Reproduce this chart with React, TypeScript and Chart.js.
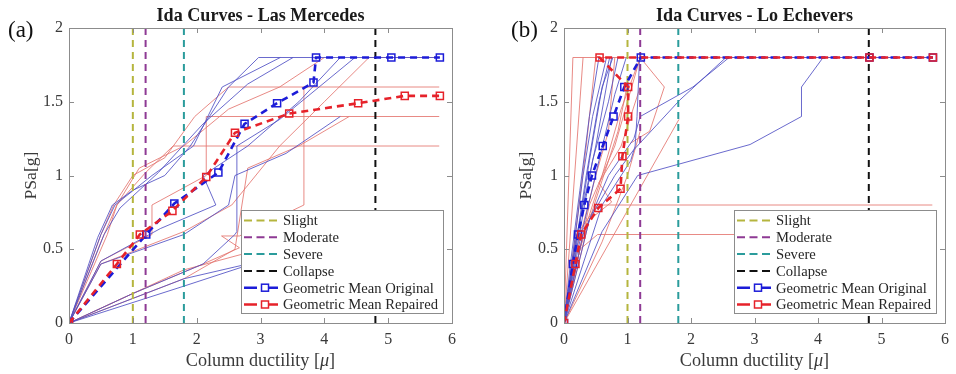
import React, { useEffect, useRef } from "react";
import { Chart, registerables } from "chart.js";
Chart.register(...registerables);

type P = [number, number][];

const X_TICKS = [0, 1, 2, 3, 4, 5, 6];
const Y_TICKS = [0, 0.5, 1, 1.5, 2];
const LEVEL_NAMES = ["Slight", "Moderate", "Severe", "Collapse"];
const LEVEL_DUCTILITY = [1, 1.2, 1.8, 4.8];
const MEAN_NAMES = ["Geometric Mean Original", "Geometric Mean Repaired"];

// ---- Panel (a): Las Mercedes ----
const lmMeanOriginal: P = [[0, 0], [1.21, 0.6], [1.65, 0.81], [2.34, 1.02], [2.75, 1.35], [3.26, 1.49], [3.83, 1.63], [3.87, 1.8], [5.05, 1.8], [5.81, 1.8]];
const lmMeanRepaired: P = [[0, 0], [0.75, 0.4], [1.11, 0.6], [1.62, 0.76], [2.15, 0.99], [2.6, 1.29], [3.45, 1.42], [4.53, 1.49], [5.26, 1.54], [5.81, 1.54]];
const lmOriginalCurves: P[] = [
  [[0, 0], [0.45, 0.58], [0.68, 0.8], [1.0, 0.9], [1.5, 1.0], [1.9, 1.2], [2.5, 1.6], [2.97, 1.8], [5.8, 1.8]],
  [[0, 0], [0.5, 0.6], [0.72, 0.8], [1.3, 1.0], [1.95, 1.2], [2.4, 1.6], [3.31, 1.8]],
  [[0, 0], [0.55, 0.6], [0.8, 0.78], [1.4, 1.02], [2.1, 1.35], [2.8, 1.62], [3.51, 1.8]],
  [[0, 0], [0.5, 0.42], [1.43, 0.64], [2.3, 0.8], [2.1, 1.0], [2.8, 1.2], [3.6, 1.5], [4.25, 1.8]],
  [[0, 0], [1.0, 0.2], [2.1, 0.4], [2.6, 0.6], [2.63, 0.62], [2.63, 1.2], [3.3, 1.38], [4.48, 1.8]],
  [[0, 0], [0.5, 0.4], [1.8, 0.6], [2.5, 0.8], [2.6, 1.0], [3.4, 1.15], [4.25, 1.4]],
  [[0, 0], [1.8, 0.25], [3.0, 0.42]],
  [[0, 0], [1.8, 0.3], [2.6, 0.38], [3.0, 0.42]],
];
const lmRepairedCurves: P[] = [
  [[0, 0], [0.5, 0.6], [0.7, 0.8], [1.0, 1.0], [1.5, 1.12], [1.97, 1.4], [2.5, 1.6], [5.8, 1.6]],
  [[0, 0], [0.5, 0.55], [0.75, 0.8], [1.2, 1.02], [1.63, 1.2], [5.8, 1.2]],
  [[0, 0], [0.5, 0.42], [1.3, 0.6], [1.3, 0.8], [2.15, 1.0], [2.15, 1.4], [5.8, 1.4]],
  [[0, 0], [0.5, 0.4], [1.8, 0.62], [2.55, 0.8], [3.3, 1.2], [4.0, 1.5], [4.7, 1.8], [5.8, 1.8]],
  [[0, 0], [1.0, 0.2], [2.1, 0.4], [2.67, 0.51], [2.39, 0.59], [2.67, 0.59], [3.68, 0.8], [3.68, 1.6]],
  [[0, 0], [1.8, 0.3], [2.6, 0.5], [2.8, 1.05], [3.6, 1.2], [4.39, 1.4]],
  [[0, 0], [1.8, 0.36], [3.0, 0.5]],
  [[0, 0], [0.6, 0.6], [0.75, 0.8], [1.1, 1.05], [1.8, 1.2], [2.5, 1.45], [3.3, 1.6], [4.0, 1.8]],
];

// ---- Panel (b): Lo Echevers ----
const leMeanOriginal: P = [[0, 0], [0.14, 0.4], [0.22, 0.6], [0.32, 0.8], [0.44, 1.0], [0.61, 1.2], [0.78, 1.4], [0.95, 1.6], [1.21, 1.8], [4.81, 1.8], [5.81, 1.8]];
const leMeanRepaired: P = [[0, 0], [0.18, 0.4], [0.27, 0.6], [0.54, 0.78], [0.89, 0.91], [0.92, 1.13], [1.01, 1.4], [1.01, 1.6], [0.56, 1.8], [4.81, 1.8], [5.81, 1.8]];
const leOriginalCurves: P[] = [
  [[0, 0], [0.1, 0.4], [0.25, 0.9], [0.4, 1.4], [0.55, 1.8]],
  [[0, 0], [0.12, 0.4], [0.3, 1.0], [0.45, 1.4], [0.67, 1.8]],
  [[0, 0], [0.14, 0.4], [0.35, 1.0], [0.55, 1.5], [0.72, 1.8]],
  [[0, 0], [0.15, 0.4], [0.4, 1.1], [0.6, 1.6], [0.77, 1.8]],
  [[0, 0], [0.2, 0.5], [0.45, 1.1], [0.7, 1.5], [0.85, 1.8]],
  [[0, 0], [0.22, 0.5], [0.55, 1.1], [0.8, 1.55], [0.98, 1.8]],
  [[0, 0], [0.3, 0.6], [0.7, 1.0], [1.1, 1.25], [1.2, 1.4], [2.03, 1.6], [2.6, 1.8], [5.8, 1.8]],
  [[0, 0], [0.4, 0.7], [0.8, 1.0], [1.09, 1.17], [1.82, 1.51], [2.55, 1.8]],
  [[0, 0], [0.6, 0.62], [1.16, 1.0], [2.93, 1.21], [3.74, 1.4], [3.74, 1.6], [4.08, 1.8]],
  [[0, 0], [0.6, 0.8], [1.05, 1.1], [1.12, 1.2], [1.15, 1.4], [1.19, 1.8]],
  [[0, 0], [0.18, 0.55], [0.5, 1.2], [0.75, 1.8]],
];
const leRepairedCurves: P[] = [
  [[0, 0], [0.14, 1.8], [5.8, 1.8]],
  [[0, 0], [0.3, 1.8]],
  [[0, 0], [0.2, 0.6], [0.53, 0.8], [5.8, 0.8]],
  [[0, 0], [0.25, 0.5], [0.53, 0.6], [5.8, 0.6]],
  [[0, 0], [1.81, 1.38]],
  [[0, 0], [0.4, 0.8], [0.8, 1.2], [1.2, 1.8], [1.58, 1.6], [1.35, 1.3], [1.05, 1.22]],
  [[0, 0], [0.3, 0.6], [0.6, 1.0], [0.9, 1.45], [1.2, 1.8]],
  [[0, 0], [0.2, 0.5], [0.5, 1.0], [0.7, 1.3], [0.8, 1.8]],
  [[0, 0], [0.25, 0.5], [0.55, 0.9], [0.85, 1.3], [1.0, 1.62]],
  [[0, 0], [0.4, 0.7], [0.75, 0.82], [0.55, 0.95], [0.9, 1.2], [1.2, 1.6]],
  [[0, 0], [0.15, 0.5], [0.35, 1.2], [0.5, 1.8]],
  [[0, 0], [0.6, 0.55], [1.0, 1.0], [1.2, 1.3]],
];

// ---- styles ----
const LEVEL_COLORS = ["#b5b53e", "#8e3a94", "#2b9c9c", "#111111"];
const BLUE_THIN = "rgba(80,80,196,0.85)";
const RED_THIN = "rgba(228,118,112,0.85)";
const BLUE_MEAN = "#1c1cd8";
const RED_MEAN = "#e6222a";
const SERIF = '"Liberation Serif", "Times New Roman", serif';
const AXIS_GRAY = "#8c8c8c";
const TEXT = "#3a3a3a";
const W = 478;
const H = 374;

function fitSize(ctx: CanvasRenderingContext2D, text: string, style: string, target: number) {
  ctx.font = `${style} 20px ${SERIF}`;
  const w = ctx.measureText(text).width;
  return (20 * target) / w;
}

interface PanelProps {
  left: number;
  tag: string;
  tagX: number;
  title: string;
  titleW: number;
  leftW: number;
  rightPad: number;
  original: P[];
  repaired: P[];
  meanOriginal: P;
  meanRepaired: P;
}

function Panel(props: PanelProps) {
  const ref = useRef<HTMLCanvasElement>(null);
  useEffect(() => {
    const canvas = ref.current!;
    const toXY = (p: P) => p.map(([x, y]) => ({ x, y }));
    const datasets: any[] = [];
    datasets.push({
      label: MEAN_NAMES[1], data: toXY(props.meanRepaired), showLine: true,
      borderColor: RED_MEAN, borderWidth: 2.6, borderDash: [7, 5],
      pointStyle: "rect", pointRadius: 5, pointBorderColor: RED_MEAN,
      pointBackgroundColor: "rgba(255,255,255,0)", pointBorderWidth: 1.5,
    });
    datasets.push({
      label: MEAN_NAMES[0], data: toXY(props.meanOriginal), showLine: true,
      borderColor: BLUE_MEAN, borderWidth: 2.6, borderDash: [7, 5],
      pointStyle: "rect", pointRadius: 5, pointBorderColor: BLUE_MEAN,
      pointBackgroundColor: "rgba(255,255,255,0)", pointBorderWidth: 1.5,
    });
    LEVEL_NAMES.forEach((name, i) => {
      datasets.push({
        label: name, data: [{ x: LEVEL_DUCTILITY[i], y: 0 }, { x: LEVEL_DUCTILITY[i], y: 2 }],
        showLine: true, borderColor: LEVEL_COLORS[i], borderWidth: 2, borderDash: [7, 5], pointRadius: 0,
      });
    });
    props.original.forEach((c, i) => datasets.push({ label: "orig" + i, data: toXY(c), showLine: true, borderColor: BLUE_THIN, borderWidth: 1, pointRadius: 0 }));
    props.repaired.forEach((c, i) => datasets.push({ label: "rep" + i, data: toXY(c), showLine: true, borderColor: RED_THIN, borderWidth: 1, pointRadius: 0 }));

    const deco = {
      id: "deco",
      afterDraw(chart: any) {
        const ctx: CanvasRenderingContext2D = chart.ctx;
        const { left, right, top, bottom } = chart.chartArea;
        const xs = chart.scales.x, ys = chart.scales.y;
        ctx.save();
        ctx.setLineDash([]);
        ctx.strokeStyle = AXIS_GRAY;
        ctx.lineWidth = 1;
        ctx.strokeRect(left + 0.5, top + 0.5, right - left, bottom - top);
        ctx.beginPath();
        X_TICKS.forEach((v) => {
          const px = Math.round(xs.getPixelForValue(v)) + 0.5;
          ctx.moveTo(px, bottom); ctx.lineTo(px, bottom - 5);
          ctx.moveTo(px, top); ctx.lineTo(px, top + 5);
        });
        Y_TICKS.forEach((v) => {
          const py = Math.round(ys.getPixelForValue(v)) + 0.5;
          ctx.moveTo(left, py); ctx.lineTo(left + 5, py);
          ctx.moveTo(right, py); ctx.lineTo(right - 5, py);
        });
        ctx.stroke();

        // legend
        const bw = 202, bh = 103;
        const bx = Math.round(right - 9 - bw), by = Math.round(bottom - 10 - bh);
        ctx.fillStyle = "#ffffff";
        ctx.fillRect(bx, by, bw, bh);
        ctx.strokeStyle = AXIS_GRAY;
        ctx.strokeRect(bx + 0.5, by + 0.5, bw, bh);
        const names = [...LEVEL_NAMES, ...MEAN_NAMES];
        const colors = [...LEVEL_COLORS, BLUE_MEAN, RED_MEAN];
        const fs = fitSize(ctx, MEAN_NAMES[1], "", 155);
        names.forEach((name, i) => {
          const y = by + 10.5 + i * 16.8;
          const x0 = bx + 3;
          ctx.strokeStyle = colors[i];
          if (i < 4) {
            ctx.lineWidth = 2;
            ctx.setLineDash([8, 4.5]);
            ctx.beginPath(); ctx.moveTo(x0, y); ctx.lineTo(x0 + 35, y); ctx.stroke();
          } else {
            ctx.setLineDash([]);
            ctx.lineWidth = 2.4;
            ctx.beginPath();
            ctx.moveTo(x0, y); ctx.lineTo(x0 + 13, y);
            ctx.moveTo(x0 + 25, y); ctx.lineTo(x0 + 34, y);
            ctx.stroke();
            ctx.lineWidth = 1.5;
            ctx.strokeRect(x0 + 17.5, y - 3.5, 7, 7);
          }
          ctx.setLineDash([]);
          ctx.fillStyle = "#262626";
          ctx.font = `${fs}px ${SERIF}`;
          ctx.textAlign = "left";
          ctx.textBaseline = "middle";
          ctx.fillText(name, bx + 42, y + 1);
        });

        // title
        const cx = (left + right) / 2;
        const ts = fitSize(ctx, props.title, "bold", props.titleW);
        ctx.font = `bold ${ts}px ${SERIF}`;
        ctx.fillStyle = "#1a1a1a";
        ctx.textAlign = "center";
        ctx.textBaseline = "middle";
        ctx.fillText(props.title, cx, 16);

        // panel tag
        ctx.font = `23px ${SERIF}`;
        ctx.fillStyle = "#111";
        ctx.textAlign = "left";
        ctx.fillText(props.tag, props.tagX, 31);

        // x axis title with italic mu
        const xa = "Column ductility [", mu = "\u03bc", xb = "]";
        const xsz = fitSize(ctx, xa + mu + xb, "", 150);
        ctx.font = `${xsz}px ${SERIF}`;
        const wa = ctx.measureText(xa).width;
        const wb = ctx.measureText(xb).width;
        ctx.font = `italic ${xsz}px ${SERIF}`;
        const wm = ctx.measureText(mu).width;
        let sx = cx - (wa + wm + wb) / 2;
        ctx.fillStyle = TEXT;
        ctx.textAlign = "left";
        ctx.font = `${xsz}px ${SERIF}`;
        ctx.fillText(xa, sx, 361);
        sx += wa;
        ctx.font = `italic ${xsz}px ${SERIF}`;
        ctx.fillText(mu, sx, 361);
        sx += wm;
        ctx.font = `${xsz}px ${SERIF}`;
        ctx.fillText(xb, sx, 361);

        // y axis title
        const ysz = fitSize(ctx, "PSa[g]", "", 48);
        ctx.translate(left - 38, (top + bottom) / 2);
        ctx.rotate(-Math.PI / 2);
        ctx.font = `${ysz}px ${SERIF}`;
        ctx.textAlign = "center";
        ctx.fillText("PSa[g]", 0, 0);
        ctx.restore();
      },
    };

    const chart = new Chart(canvas, {
      type: "scatter",
      data: { datasets },
      options: {
        responsive: false,
        animation: false,
        events: [],
        layout: { padding: { left: 0, right: props.rightPad, top: 28, bottom: 0 } },
        plugins: { legend: { display: false }, tooltip: { enabled: false }, title: { display: false } },
        scales: {
          x: {
            type: "linear", min: 0, max: 6,
            grid: { display: false, drawTicks: false }, border: { display: false },
            ticks: { font: { family: SERIF, size: 16 }, color: TEXT, padding: 7, maxRotation: 0, callback: (v: any) => String(v) },
            afterBuildTicks: (s: any) => { s.ticks = X_TICKS.map((v) => ({ value: v })); },
            afterFit: (s: any) => { s.height = 51; },
          },
          y: {
            type: "linear", min: 0, max: 2,
            grid: { display: false, drawTicks: false }, border: { display: false },
            ticks: { font: { family: SERIF, size: 16 }, color: TEXT, padding: 6, callback: (v: any) => String(v) },
            afterBuildTicks: (s: any) => { s.ticks = Y_TICKS.map((v) => ({ value: v })); },
            afterFit: (s: any) => { s.width = props.leftW; },
          },
        },
      } as any,
      plugins: [deco],
    });
    return () => chart.destroy();
  }, []);
  return (
    <canvas
      ref={ref}
      width={W}
      height={H}
      style={{ position: "absolute", left: props.left, top: 0, width: W, height: H }}
    />
  );
}

export default function App() {
  return (
    <div style={{ position: "absolute", left: 0, top: 0, width: 956, height: 374, background: "#fff", overflow: "hidden" }}>
      <Panel left={0} tag="(a)" tagX={8} title="Ida Curves - Las Mercedes" titleW={208} leftW={69} rightPad={26}
        original={lmOriginalCurves} repaired={lmRepairedCurves} meanOriginal={lmMeanOriginal} meanRepaired={lmMeanRepaired} />
      <Panel left={478} tag="(b)" tagX={33} title="Ida Curves - Lo Echevers" titleW={197} leftW={86} rightPad={9}
        original={leOriginalCurves} repaired={leRepairedCurves} meanOriginal={leMeanOriginal} meanRepaired={leMeanRepaired} />
    </div>
  );
}
